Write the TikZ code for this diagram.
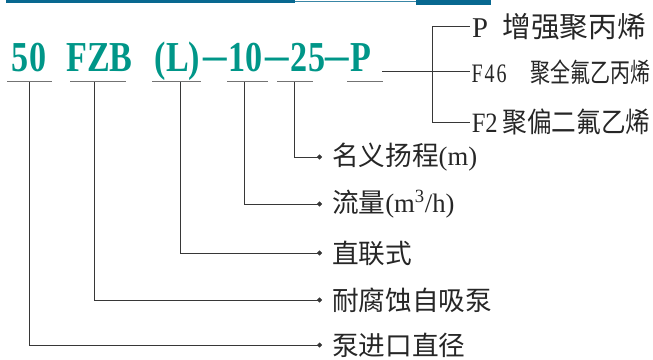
\documentclass[tikz,border=0pt]{standalone}
\usepackage{fontspec}
\setmainfont{Liberation Serif}
\newfontfamily\cjk{Noto Sans CJK SC}
\usetikzlibrary{arrows.meta}
\definecolor{codeteal}{RGB}{0,150,136}
\definecolor{barblue}{RGB}{8,104,144}
\definecolor{leadgray}{RGB}{55,55,55}

\begin{document}
\begin{tikzpicture}[x=0.75pt, y=-0.75pt,
codenode/.style={anchor=base, inner sep=0pt, xscale=0.8, text=codeteal, font=\bfseries\fontsize{32}{32}\selectfont},
dashnode/.style={anchor=base, inner sep=0pt, xscale=1.1, text=codeteal, font=\bfseries\fontsize{32}{32}\selectfont},
uline/.style={draw=black!55, line width=0.75pt},
lead/.style={draw=leadgray, line width=0.75pt},
dotlead/.style={lead, -{Circle[length=3.6pt]}},
namenode/.style={anchor=west, inner sep=0pt, outer xsep=7.5pt, text=black!85, font=\fontsize{20}{20}\selectfont},
optnode/.style={anchor=west, inner sep=0pt, outer xsep=1.5pt, text=black!85, font=\fontsize{21}{21}\selectfont}
]
    \useasboundingbox (0,0) rectangle (653,360);

    \fill[barblue] (6,0) rectangle (295,3);
    \draw[barblue!80, line width=0.75pt] (295,2) -- (416,2);
    \fill[barblue] (416,0.5) rectangle (491,5.5);

    \node [codenode] (c50) at (29,72) {50};
    \node [codenode] (cFZB) at (99.5,72) {FZB};
    \node [codenode] (cL) at (177.5,72) {(L)};
    \node [dashnode] (d1) at (215,72) {\raisebox{2pt}{–}};
    \node [codenode] (c10) at (245.5,72) {10};
    \node [dashnode] (d2) at (277.5,72) {\raisebox{2pt}{–}};
    \node [codenode] (c25) at (308,72) {25};
    \node [dashnode] (d3) at (337.5,72) {\raisebox{2pt}{–}};
    \node [codenode] (cP) at (361,72) {P};

    \draw[uline] (7,82) -- (52,82);
    \draw[uline] (70,82) -- (126,82);
    \draw[uline] (152,82) -- (201,82);
    \draw[uline] (227,82) -- (268,82);
    \draw[uline] (277,82) -- (313,82);
    \draw[uline] (347,82) -- (383,82);

    \node [optnode, font=\fontsize{21.5}{21.5}\selectfont] (oP) at (470,27) {P\hspace{11pt}{\cjk 增强聚丙烯}};
    \node [optnode, xscale=0.75, font=\fontsize{20}{20}\selectfont] (oF46) at (470,72) {F\hspace{2pt}4\hspace{2pt}6\hspace{24pt}{\cjk 聚全氟乙丙烯}};
    \node [optnode, xscale=0.88] (oF2) at (470,122) {F2\hspace{4pt}{\cjk 聚偏二氟乙烯}};

    \coordinate (pEnd) at (382,72);
    \coordinate (jn) at (432,72);
    \draw[lead] (pEnd) -- (oF46.west);
    \draw[lead] (jn) |- (oP.west);
    \draw[lead] (jn) |- (oF2.west);

    \node [namenode] (lHead) at (322,157) {{\cjk 名义扬程}(m)};
    \node [namenode] (lFlow) at (322,204) {{\cjk 流量}(m\textsuperscript{3}/h)};
    \node [namenode] (lConn) at (322,253) {\cjk 直联式};
    \node [namenode] (lPump) at (322,300) {\cjk 耐腐蚀自吸泵};
    \node [namenode] (lDia) at (322,345) {\cjk 泵进口直径};

    \coordinate (s50) at (29,82);
    \coordinate (sFZB) at (94,82);
    \coordinate (sL) at (180,82);
    \coordinate (s10) at (244,82);
    \coordinate (s25) at (294,82);

    \draw[dotlead] (s25) |- (lHead.west);
    \draw[dotlead] (s10) |- (lFlow.west);
    \draw[dotlead] (sL) |- (lConn.west);
    \draw[dotlead] (sFZB) |- (lPump.west);
    \draw[dotlead] (s50) |- (lDia.west);

\end{tikzpicture}
\end{document}
